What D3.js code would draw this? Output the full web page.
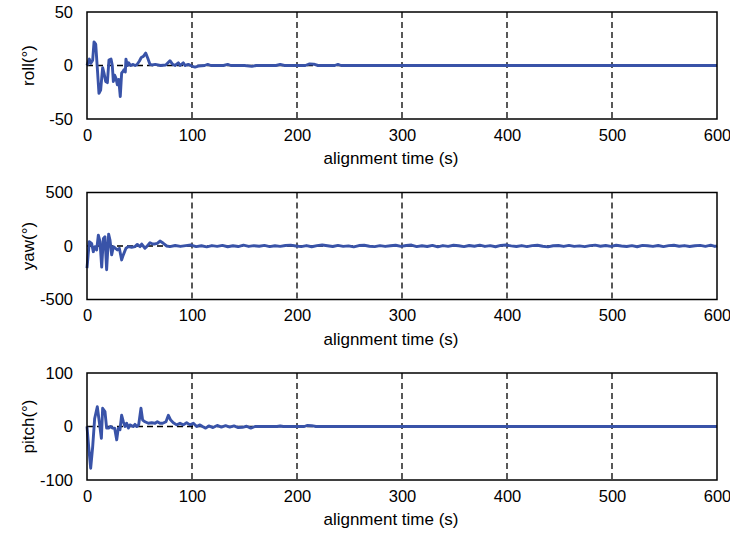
<!DOCTYPE html>
<html>
<head>
<meta charset="utf-8">
<script src="https://cdn.jsdelivr.net/npm/d3@7"></script>
<style>
  html, body { margin: 0; padding: 0; background: #fff; }
  svg { display: block; font-family: "Liberation Sans", Arial, Helvetica, sans-serif; }
</style>
</head>
<body>
<svg id="chart" width="730" height="535"></svg>
<script>
// ---------- data ----------
const xTicks = [0, 100, 200, 300, 400, 500, 600];
const xLabel = "alignment time (s)";
const panelLabels = ["roll(°)", "yaw(°)", "pitch(°)"];
const panelDomains = [[-50, 50], [-500, 500], [-100, 100]];
const panelTicks = [[-50, 0, 50], [-500, 0, 500], [-100, 0, 100]];

const rollTime = [0, 2.2, 3.5, 5.4, 6.7, 8.3, 9.8, 11.4, 13.0, 14.9, 16.2, 17.8, 19.4, 20.9, 22.9, 24.1, 25.1, 26.3, 27.6, 28.9, 30.2, 31.7, 33.0, 33.9, 35.2, 36.5, 37.1, 38.4, 39.7, 41.6, 43.5, 45.7, 47.3, 49.8, 51.7, 53.7, 55.9, 57.8, 60, 62, 65, 70, 75, 79, 81.6, 83.8, 87, 88.6, 91.7, 93.3, 96.5, 99.7, 102.9, 106, 112, 115, 118, 130, 134, 137, 150, 157, 161, 180, 184, 188, 208, 212, 216, 220, 236, 239, 242, 600];
const rollValues = [0, 6, 2, 5, 22, 20, -2, -26, -23, -2, -7, -15, -16, 5, 6, 0, -15, -9, -12, -18, -13, -29, -7, -6, -4, -6, 6, 0, 2.5, 0, 1, 0, 0.5, 4, 7.5, 8.5, 11.6, 7, 1, 0.5, 1, 0, 0.5, 4.5, 1, 0, 2.5, 0, 2.5, 0, 1, -0.5, -1.5, -0.5, 0, 1, 0, 0, 1, 0, 0, -0.8, 0, 0, 1, 0, 0, 1.5, 1.2, 0, 0, 1, 0, 0];

const yawTime = [0, 2.2, 4.4, 6.0, 7.6, 9.2, 10.8, 12.4, 14.0, 15.6, 17.1, 18.7, 20.6, 21.9, 23.5, 25.1, 27.0, 28.9, 30.8, 33.0, 34.6, 37.1, 39.4, 42.5, 45.7, 47.9, 50.5, 52.1, 55.2, 56.8, 60.0, 62.5, 64.8, 67.0, 69.5, 72.7, 75.9, 79, 84, 89, 94, 99, 104, 109, 114, 119, 124, 129, 134, 139, 144, 149, 154, 159, 164, 169, 174, 179, 184, 189, 194, 199, 204, 209, 214, 219, 224, 229, 234, 239, 244, 249, 254, 259, 264, 269, 274, 279, 284, 289, 294, 299, 304, 309, 314, 319, 324, 329, 334, 339, 344, 349, 354, 359, 364, 369, 374, 379, 384, 389, 394, 399, 404, 409, 414, 419, 424, 429, 434, 439, 444, 449, 454, 459, 464, 469, 474, 479, 484, 489, 494, 499, 504, 509, 514, 519, 524, 529, 534, 539, 544, 549, 554, 559, 564, 569, 574, 579, 584, 589, 594, 598, 600];
const yawValues = [-207, 40, 25, -53, -6, -37, 102, 40, -197, 71, 86, -222, 111, 56, -83, -6, -21, -37, -21, -130, -83, -21, -6, -12, -6, 15, -6, 18, -21, -6, 31, 19, 19, 25, 46, 25, 0, -6, 5, -4, 3, 9, -6, 2, -8, 4, -3, 6, -7, 2, -5, 8, -4, 3, -2, 6, -6, 2, -3, 5, 8, 0, -6, 4, -7, 3, 9, 2, -5, 6, -3, 1, -8, 4, 7, -2, -6, 3, -4, 2, 7, -3, 5, 9, -6, 2, -5, 6, -8, 4, -3, 7, 2, -6, 5, -2, 8, -4, 3, -7, 6, 9, 1, -5, 4, -6, 3, 7, -2, -8, 2, 5, -4, 6, -3, 1, -6, 4, 8, -2, 5, -3, 7, 0, -5, 3, -7, 6, 2, -4, 5, -6, 3, 7, -2, 4, -5, 2, 6, -3, 8, -4, 2];

const pitchTime = [0, 1.6, 3.5, 5.4, 7.3, 9.8, 11.7, 13.7, 14.9, 17.1, 18.7, 20.6, 22.5, 24.4, 26.3, 28.3, 29.8, 31.4, 33.0, 34.6, 36.2, 37.8, 39.4, 40.9, 44.1, 45.7, 47.3, 49.2, 51.4, 53.0, 55.2, 58.4, 61.6, 64.8, 67.0, 69.5, 72.1, 75.2, 77.5, 79.7, 82.2, 85.4, 88.6, 91.7, 94.9, 98.1, 101.3, 104.4, 107.6, 110, 113, 116, 120, 124, 128, 132, 136, 140, 144, 148, 152, 156, 160, 181, 184, 187, 207, 210, 214, 218, 600];
const pitchValues = [0, -38, -78, -38, 15, 37, 9, -22, 34, 28, -3, -3, 0, -3, -3, -25, -3, -6, 21, 9, 0, 6, -3, 3, 0, 4, 0, 3, 34, 12, 9, 6, 7, 6, 9, 6, 6, 9, 21, 12, 7, 3, 6, 3, 7, 3, 6, 0, 3, 0, -3, 1, -2, 2, -1, 1.5, -1, 1, -2, -1.5, 0.5, -3, 0, 0, 1, 0, 0, 2, 1.5, 0, 0];

const series = [
  { time: rollTime, values: rollValues },
  { time: yawTime, values: yawValues },
  { time: pitchTime, values: pitchValues }
];

// ---------- layout ----------
const svg = d3.select("#chart");
const left = 87, right = 717;
const panelTops = [12, 192.5, 373];
const panelH = 107;
const lineColor = "#3953a8";
const fmt = d => String(d);

const x = d3.scaleLinear().domain([0, 600]).range([left, right]);

series.forEach((s, i) => {
  const top = panelTops[i], bottom = top + panelH;
  const y = d3.scaleLinear().domain(panelDomains[i]).range([bottom, top]);
  const g = svg.append("g");

  // vertical dashed grid lines
  g.selectAll("line.vgrid")
    .data(xTicks.filter(t => t > 0 && t < 600))
    .join("line")
    .attr("x1", d => x(d)).attr("x2", d => x(d))
    .attr("y1", top).attr("y2", bottom)
    .attr("stroke", "#000").attr("stroke-width", 1.3)
    .attr("stroke-dasharray", "6,4");

  // zero dashed line
  g.append("line")
    .attr("x1", left).attr("x2", right)
    .attr("y1", y(0)).attr("y2", y(0))
    .attr("stroke", "#000").attr("stroke-width", 1.3)
    .attr("stroke-dasharray", "6,4");

  // data line
  const pts = s.time.map((t, k) => [t, s.values[k]]);
  g.append("path")
    .datum(pts)
    .attr("fill", "none")
    .attr("stroke", lineColor)
    .attr("stroke-width", 2.9)
    .attr("stroke-linejoin", "round")
    .attr("d", d3.line().x(d => x(d[0])).y(d => y(d[1])));

  // frame
  g.append("rect")
    .attr("x", left).attr("y", top)
    .attr("width", right - left).attr("height", panelH)
    .attr("fill", "none").attr("stroke", "#000").attr("stroke-width", 1.5);

  // x axis tick labels
  const xAxis = d3.axisBottom(x).tickValues(xTicks).tickFormat(fmt).tickSize(0).tickPadding(10);
  const xa = g.append("g").attr("transform", `translate(0,${bottom})`).call(xAxis);
  xa.select(".domain").remove();
  xa.selectAll("text").attr("font-size", 16.5).attr("fill", "#000")
    .attr("font-family", "'Liberation Sans', Arial, sans-serif");

  // y axis tick labels
  const yAxis = d3.axisLeft(y).tickValues(panelTicks[i]).tickFormat(fmt).tickSize(0).tickPadding(14);
  const ya = g.append("g").attr("transform", `translate(${left},0)`).call(yAxis);
  ya.select(".domain").remove();
  ya.selectAll("text").attr("font-size", 16.5).attr("fill", "#000")
    .attr("font-family", "'Liberation Sans', Arial, sans-serif");

  // x title
  g.append("text")
    .attr("x", 391).attr("y", bottom + 45)
    .attr("text-anchor", "middle")
    .attr("font-size", 17).attr("fill", "#000")
    .text(xLabel);

  // y title
  g.append("text")
    .attr("transform", `translate(${34},${(top + bottom) / 2}) rotate(-90)`)
    .attr("text-anchor", "middle")
    .attr("font-size", 17).attr("fill", "#000")
    .text(panelLabels[i]);
});
</script>
</body>
</html>
